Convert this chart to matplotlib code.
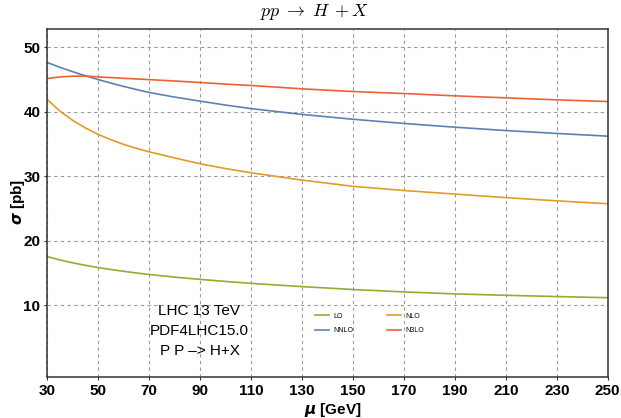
import matplotlib
matplotlib.use("Agg")
import matplotlib.pyplot as plt

mu = [30, 35, 40, 45, 50, 55, 60, 65, 70, 80, 90, 100, 110, 130, 150, 170, 190, 210, 230, 250]
LO = [17.55, 17.03, 16.58, 16.2, 15.85, 15.55, 15.27, 15.01, 14.78, 14.37, 14.02, 13.7, 13.4, 12.9, 12.45, 12.08, 11.77, 11.55, 11.36, 11.18]
NLO = [41.9, 40.1, 38.67, 37.49, 36.5, 35.67, 34.95, 34.33, 33.8, 32.85, 31.95, 31.2, 30.55, 29.42, 28.45, 27.8, 27.25, 26.7, 26.2, 25.75]
NNLO = [47.65, 46.9, 46.22, 45.59, 45.0, 44.46, 43.94, 43.46, 43.0, 42.29, 41.66, 41.05, 40.5, 39.6, 38.85, 38.2, 37.62, 37.1, 36.65, 36.23]
N3LO = [45.17, 45.42, 45.53, 45.55, 45.42, 45.31, 45.2, 45.1, 45.0, 44.78, 44.55, 44.3, 44.09, 43.57, 43.15, 42.84, 42.48, 42.17, 41.86, 41.6]

xticks = list(range(30, 251, 20))
yticks = [10, 20, 30, 40, 50]
info_lines = ["LHC 13 TeV", "PDF4LHC15.0", "P P \u2013> H+X"]

plt.rcParams['font.family'] = ['Liberation Sans', 'DejaVu Sans']

W, H = 621, 418
fig = plt.figure(figsize=(W / 100, H / 100), dpi=100)
ax = fig.add_axes([47.3 / W, 1 - 376.7 / H, (607.7 - 47.3) / W, (376.7 - 29.3) / H])

c_lo, c_nlo, c_nnlo, c_n3lo = '#8DB12F', '#E19C24', '#5E81B5', '#EB6235'
lw = 1.2
ax.plot(mu, LO, color=c_lo, lw=lw, label='LO')
ax.plot(mu, NNLO, color=c_nnlo, lw=lw, label='NNLO')
ax.plot(mu, NLO, color=c_nlo, lw=lw, label='NLO')
ax.plot(mu, N3LO, color=c_n3lo, lw=lw, label='N3LO')

ax.set_xlim(30, 250)
ax.set_ylim(-1.07, 52.8)
ax.set_xticks(xticks)
ax.set_yticks(yticks)
ax.grid(True, color='#9a9a9a', linestyle=(0, (3, 3)), lw=0.8)
ax.set_axisbelow(True)
for s in ax.spines.values():
    s.set_color('#333333')
    s.set_linewidth(1.1)
ax.tick_params(direction='out', length=2, width=0.8, color='#333333', pad=3,
               labelsize=11)
for lab in ax.get_xticklabels() + ax.get_yticklabels():
    lab.set_fontweight('bold')

fig.text(333 / W, 1 - 410 / H, r'$\mathbfit{\mu}$ [GeV]', ha='center', va='center',
         fontsize=11, fontweight='bold')
fig.text(18 / W, 1 - 202 / H, r'$\mathbfit{\sigma}$ [pb]', ha='center', va='center',
         fontsize=11, fontweight='bold', rotation=90)
fig.text(0.507, 1 - 12 / H, r'$pp\;\rightarrow\;H\;+X$', ha='center', va='center',
         fontsize=13, math_fontfamily='cm')

for ypix, t in zip([310.7, 331.0, 350.7], info_lines):
    fig.text(199.5 / W, 1 - ypix / H, t, ha='center', va='center', fontsize=11)

leg = ax.legend(loc='upper left', bbox_to_anchor=(315 / W, 1 - 312.5 / H),
                bbox_transform=fig.transFigure, ncol=2, frameon=False,
                fontsize=5, handlelength=2.0, handletextpad=0.6,
                columnspacing=4.9, labelspacing=1.15, borderpad=0,
                borderaxespad=0)

fig.savefig('out.png', dpi=100)
